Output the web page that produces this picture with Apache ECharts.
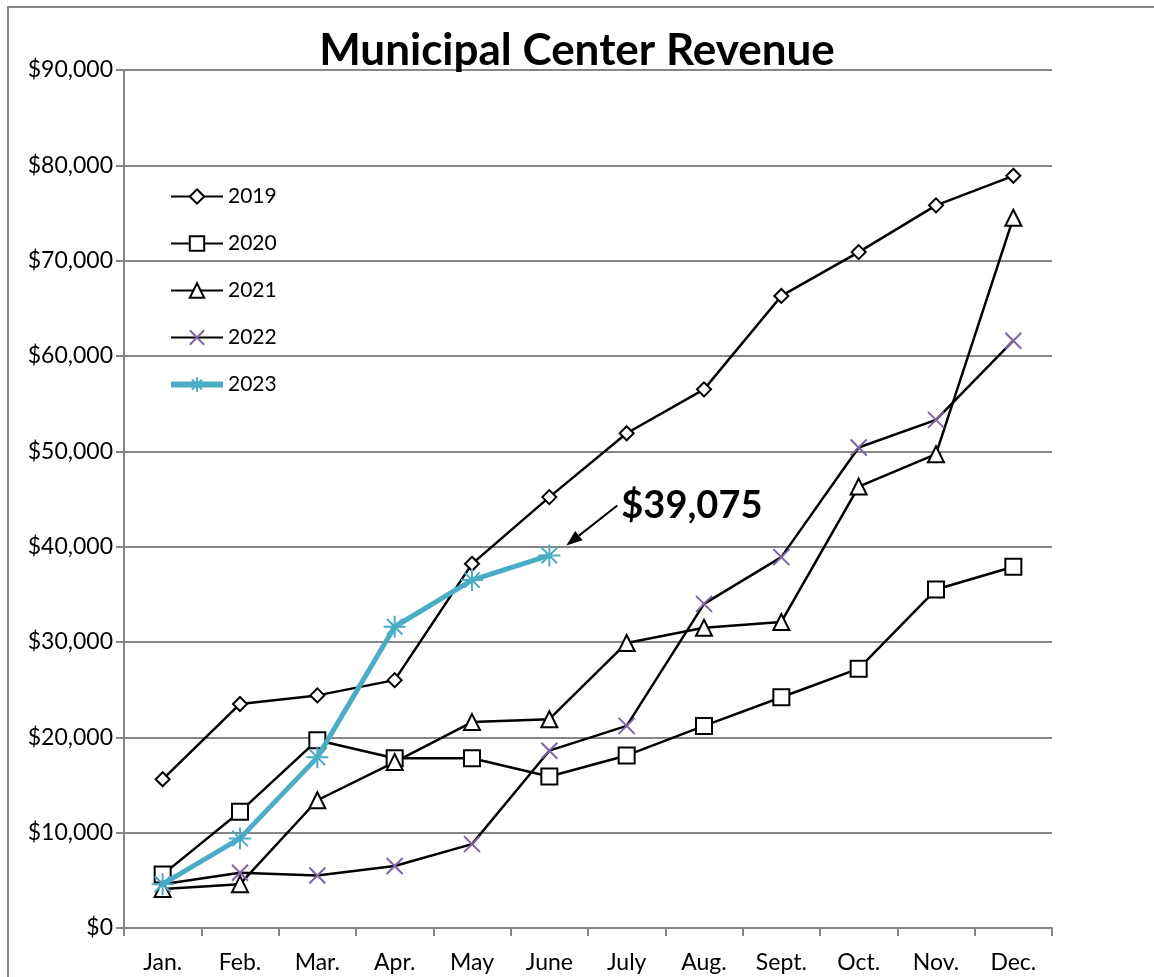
<!DOCTYPE html>
<html>
<head>
<meta charset="utf-8">
<script src="https://cdn.jsdelivr.net/npm/echarts@6/dist/echarts.min.js"></script>
<style>
  html, body { margin: 0; padding: 0; background: #fff; }
  #chart { width: 1154px; height: 977px; }
</style>
</head>
<body>
<div id="chart"></div>
<script>
// data
var months = ['Jan.', 'Feb.', 'Mar.', 'Apr.', 'May', 'June', 'July', 'Aug.', 'Sept.', 'Oct.', 'Nov.', 'Dec.'];
var rev2019 = [15600, 23500, 24400, 26000, 38200, 45200, 51900, 56500, 66300, 70900, 75800, 78900];
var rev2020 = [5600, 12200, 19700, 17800, 17800, 15900, 18100, 21200, 24200, 27200, 35500, 37900];
var rev2021 = [4100, 4600, 13400, 17400, 21600, 21900, 29900, 31500, 32100, 46300, 49700, 74500];
var rev2022 = [4600, 5800, 5500, 6500, 8800, 18600, 21200, 34000, 38900, 50400, 53300, 61600];
var rev2023 = [4600, 9400, 17900, 31600, 36500, 39075];
var callout = '$39,075';

var font = 'Lato';
var grey = '#868686';
var teal = '#4BACC6';
var xPath = 'path://M0,0L10,10M10,0L0,10';
var starPath = 'path://M5,0L5,10M0,5L10,5M1.5,1.5L8.5,8.5M8.5,1.5L1.5,8.5';

function money(v) {
    return '$' + v.toLocaleString('en-US');
}

function blackSeries(name, data, symbol, size) {
    return {
        name: name,
        type: 'line',
        data: data,
        symbol: symbol,
        symbolSize: size,
        showAllSymbol: true,
        lineStyle: { color: '#000', width: 2.5 },
        itemStyle: { color: '#fff', borderColor: '#000', borderWidth: 2 },
        emphasis: { disabled: true }
    };
}

var myChart = echarts.init(document.getElementById('chart'));
myChart.setOption({
    animation: false,
    textStyle: { fontFamily: font },
    title: {
        text: 'Municipal Center Revenue',
        left: 'center',
        top: 24,
        textStyle: { fontFamily: font, fontSize: 44, fontWeight: 'bold', color: '#000' }
    },
    grid: { left: 124, right: 102, top: 70, bottom: 49, containLabel: false },
    legend: {
        orient: 'vertical',
        left: 163,
        top: 181,
        itemWidth: 52,
        itemHeight: 18,
        itemGap: 26,
        textStyle: { fontFamily: font, fontSize: 21, color: '#000' },
        data: ['2019', '2020', '2021', '2022', { name: '2023', lineStyle: { width: 6 } }]
    },
    xAxis: {
        type: 'category',
        data: months,
        boundaryGap: true,
        axisLine: { lineStyle: { color: grey, width: 2 } },
        axisTick: { show: true, length: 8, lineStyle: { color: grey, width: 2 } },
        axisLabel: { fontFamily: font, fontSize: 23, color: '#000', margin: 23 },
        splitLine: { show: false }
    },
    yAxis: {
        type: 'value',
        min: 0,
        max: 90000,
        interval: 10000,
        axisLine: { show: true, lineStyle: { color: grey, width: 2 } },
        axisTick: { show: true, length: 8, lineStyle: { color: grey, width: 2 } },
        axisLabel: { fontFamily: font, fontSize: 23, color: '#000', margin: 11, formatter: money },
        splitLine: { lineStyle: { color: grey, width: 2 } }
    },
    series: [
        blackSeries('2019', rev2019, 'diamond', 14),
        blackSeries('2020', rev2020, 'rect', 16),
        blackSeries('2021', rev2021, 'triangle', 16),
        {
            name: '2022',
            type: 'line',
            data: rev2022,
            symbol: xPath,
            symbolSize: 16,
            lineStyle: { color: '#000', width: 2.5 },
            itemStyle: { color: 'none', borderColor: '#8064A2', borderWidth: 2 },
            emphasis: { disabled: true }
        },
        {
            name: '2023',
            type: 'line',
            data: rev2023,
            symbol: starPath,
            symbolSize: 22,
            lineStyle: { color: teal, width: 5 },
            itemStyle: { color: 'none', borderColor: teal, borderWidth: 2 },
            emphasis: { disabled: true },
            z: 5
        }
    ]
});

// callout arrow + label anchored on the last 2023 point
var last = rev2023.length - 1;
var p = myChart.convertToPixel({ seriesIndex: 4 }, [last, rev2023[last]]);
var tip = [p[0] + 17, p[1] - 10];
var tail = [p[0] + 68, p[1] - 50];
var ang = Math.atan2(tip[1] - tail[1], tip[0] - tail[0]);
var hl = 16, hw = 6;
var bx = tip[0] - hl * Math.cos(ang), by = tip[1] - hl * Math.sin(ang);
var head = [
    tip,
    [bx + hw * Math.sin(ang), by - hw * Math.cos(ang)],
    [bx - hw * Math.sin(ang), by + hw * Math.cos(ang)]
];

myChart.setOption({
    graphic: [
        {
            type: 'rect',
            shape: { x: 8, y: 7, width: 1300, height: 1100 },
            style: { fill: 'none', stroke: grey, lineWidth: 2 },
            silent: true
        },
        {
            type: 'line',
            shape: { x1: tail[0], y1: tail[1], x2: bx, y2: by },
            style: { stroke: '#000', lineWidth: 2 },
            z: 10
        },
        {
            type: 'polygon',
            shape: { points: head },
            style: { fill: '#000' },
            z: 10
        },
        {
            type: 'text',
            x: tail[0] + 4,
            y: tail[1],
            style: {
                text: callout,
                fontFamily: font,
                fontSize: 38,
                fontWeight: 'bold',
                fill: '#000',
                align: 'left',
                verticalAlign: 'middle'
            },
            z: 10
        }
    ]
});
</script>
</body>
</html>
